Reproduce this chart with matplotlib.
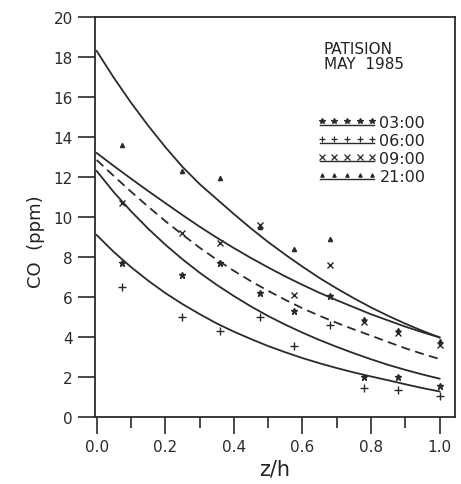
import numpy as np
import matplotlib
matplotlib.use("Agg")
import matplotlib.pyplot as plt

plt.rcParams['font.family'] = ['DejaVu Sans']

# measurement heights (z/h) and CO concentrations (ppm) per hour
z_obs = [0.075, 0.25, 0.36, 0.475, 0.575, 0.68, 0.78, 0.88, 1.0]
co_0300 = [7.7, 7.1, 7.7, 6.2, 5.3, 6.05, 2.0, 2.0, 1.55]
co_0600 = [6.5, 5.0, 4.3, 5.0, 3.55, 4.6, 1.45, 1.35, 1.05]
co_0900 = [10.7, 9.2, 8.7, 9.6, 6.1, 7.6, 4.75, 4.2, 3.6]
co_2100 = [13.6, 12.3, 11.95, 9.5, 8.4, 8.9, 4.9, 4.35, 3.8]

# fitted profiles, read every 0.05 in z/h
z_fit = [0.0, 0.05, 0.1, 0.15, 0.2, 0.25, 0.3, 0.35, 0.4, 0.45, 0.5,
         0.55, 0.6, 0.65, 0.7, 0.75, 0.8, 0.85, 0.9, 0.95, 1.0]
fit_a = [18.3, 16.96, 15.72, 14.57, 13.5, 12.51, 11.65, 10.9, 10.15, 9.43,
         8.75, 8.12, 7.52, 6.95, 6.43, 5.94, 5.48, 5.06, 4.67, 4.31, 3.98]
fit_b = [13.2, 12.55, 11.92, 11.3, 10.7, 10.1, 9.52, 8.97, 8.45, 7.95,
         7.48, 7.03, 6.61, 6.21, 5.84, 5.49, 5.14, 4.83, 4.52, 4.24, 3.98]
fit_c = [12.3, 11.24, 10.29, 9.42, 8.62, 7.89, 7.22, 6.61, 6.05, 5.53,
         5.05, 4.62, 4.22, 3.85, 3.51, 3.19, 2.89, 2.61, 2.36, 2.13, 1.92]
fit_d = [9.1, 8.25, 7.5, 6.82, 6.2, 5.65, 5.15, 4.68, 4.27, 3.9,
         3.55, 3.24, 2.95, 2.69, 2.45, 2.23, 2.03, 1.84, 1.64, 1.45, 1.28]
fit_mean = [12.85, 12.05, 11.27, 10.52, 9.8, 9.12, 8.47, 7.87, 7.31, 6.79,
            6.31, 5.86, 5.44, 5.06, 4.71, 4.38, 4.07, 3.75, 3.44, 3.16, 2.9]

hours = ['03:00', '06:00', '09:00', '21:00']
markers = [('*', 5), ('+', 6), ('x', 5), ('^', 3)]
ink = '#2a2a2a'

fig = plt.figure(figsize=(4.61, 4.85), dpi=100)
ax = fig.add_axes([0.206, 0.138, 0.781, 0.825])

for prof in (fit_a, fit_b, fit_c, fit_d):
    ax.plot(z_fit, prof, color=ink, lw=1.3)
ax.plot(z_fit, fit_mean, color=ink, lw=1.3, dashes=(5, 3))

for vals, (m, ms) in zip([co_0300, co_0600, co_0900, co_2100], markers):
    ax.plot(z_obs, vals, ls='none', marker=m, ms=ms, color=ink, mew=1.0)

# station label and key
ax.text(0.635, 0.94, 'PATISION\nMAY  1985', transform=ax.transAxes,
        fontsize=11, va='top', ha='left', linespacing=1.0, color='#222222')
for i, (h, (m, ms)) in enumerate(zip(hours, markers)):
    yk = 0.735 - i * 0.045
    xs = np.linspace(0.63, 0.77, 5)
    ax.plot(xs, [yk + 0.006] * 5, ls='none', marker=m, ms=ms * 0.8,
            color=ink, mew=0.9, transform=ax.transAxes, clip_on=False)
    ax.plot([0.625, 0.775], [yk - 0.006] * 2, color=ink, lw=1.0,
            transform=ax.transAxes)
    ax.text(0.79, yk, h, transform=ax.transAxes, fontsize=11.5,
            va='center', ha='left', color='#222222')

ax.set_xlim(-0.005, 1.045)
ax.set_ylim(0, 20)
ax.set_xticks([0.0, 0.2, 0.4, 0.6, 0.8, 1.0])
ax.set_xticks([0.1, 0.3, 0.5, 0.7, 0.9], minor=True)
ax.set_yticks(range(0, 21, 2))
ax.set_xticklabels(['0.0', '0.2', '0.4', '0.6', '0.8', '1.0'])
ax.tick_params(axis='both', which='major', length=12, width=1.2,
               labelsize=11, colors=ink, pad=4)
ax.tick_params(axis='x', which='minor', length=8, width=1.2, colors=ink)
ax.tick_params(axis='y', which='minor', left=False)
for s in ax.spines.values():
    s.set_linewidth(1.3)
    s.set_color(ink)

ax.set_xlabel('z/h', fontsize=15, color='#222222', labelpad=3)
ax.set_ylabel('CO  (ppm)', fontsize=13, color='#222222')
ax.yaxis.set_label_coords(-0.14, 0.44)

fig.savefig('out.png', dpi=100)
